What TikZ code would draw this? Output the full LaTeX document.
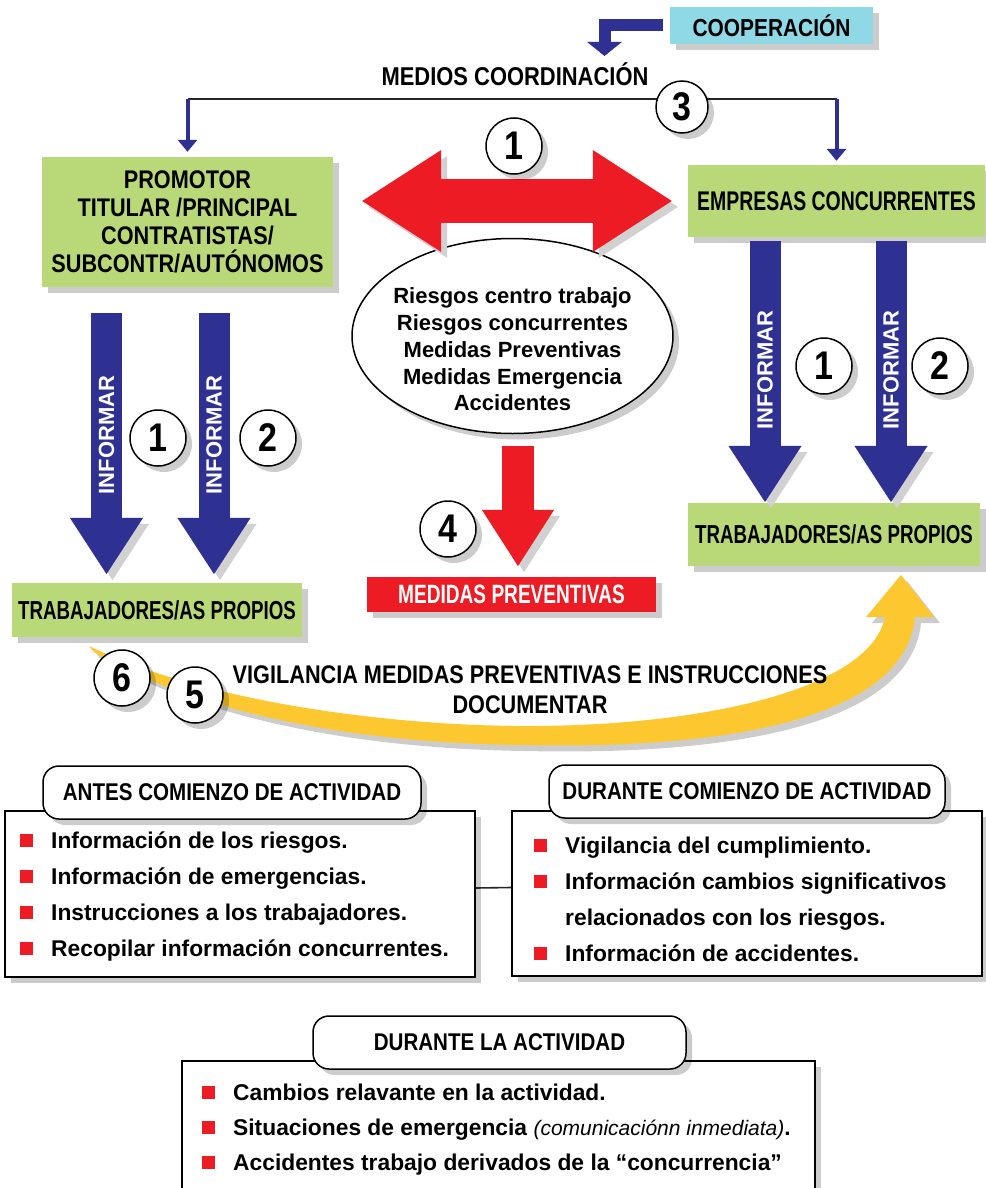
\documentclass[tikz,border=0pt]{standalone}
\usepackage{fontspec}
\setmainfont{Liberation Sans}
\newfontfamily\cndfont[FakeStretch=0.85]{Liberation Sans}
\newfontfamily\tightfont[FakeStretch=0.72]{Liberation Sans}
\usetikzlibrary{shapes.geometric,arrows.meta,shadows}

\definecolor{boxgreen}{RGB}{185,217,120}
\definecolor{coopcyan}{RGB}{143,216,229}
\definecolor{alertred}{RGB}{237,28,36}
\definecolor{infoblue}{RGB}{46,49,146}
\definecolor{arcgold}{RGB}{253,200,47}

\newcommand{\bul}{\textcolor{alertred}{\rule[1.5pt]{13pt}{13pt}}}

\tikzset{
  softshadow/.style={drop shadow={shadow xshift=6pt, shadow yshift=-6pt, fill=black, opacity=.2}},
  lineshadow/.style={preaction={draw=black!18, transform canvas={shift={(6pt,-6pt)}}}},
  greenbox/.style={fill=boxgreen, softshadow, inner sep=0pt, align=center},
  capsfont/.style={font=\cndfont\bfseries\fontsize{#1}{28}\selectfont},
  tightcaps/.style={font=\tightfont\bfseries\fontsize{#1}{28}\selectfont},
  numdisc/.style={circle, draw, line width=1.5pt, fill=white, softshadow, minimum size=56pt,
    inner sep=0pt, font=\cndfont\bfseries\fontsize{40}{40}\selectfont},
  fatblue/.style={draw=infoblue, line width=31pt, -{Triangle[width=69pt,length=57pt]}, lineshadow},
  fatred/.style={draw=alertred, lineshadow},
  infotext/.style={rotate=90, text=white, font=\bfseries\fontsize{22}{22}\selectfont},
  medline/.style={draw=black!85, line width=1.6pt},
  medarrow/.style={draw=infoblue, line width=4pt, -{Triangle[width=19pt,length=12pt]}},
  titlebox/.style={draw, line width=1.5pt, rounded corners=16pt, fill=white, softshadow, inner sep=0pt,
    capsfont=24.2},
  listbox/.style={draw, line width=1.5pt, fill=white, softshadow, inner sep=0pt},
  listtext/.style={inner sep=0pt, anchor=north west, font=\bfseries\fontsize{22.8}{#1}\selectfont},
}

\begin{document}
\begin{tikzpicture}[x=1pt, y=-1pt]
\useasboundingbox (0,0) rectangle (985,1188);

\node[fill=coopcyan, softshadow, minimum width=203pt, minimum height=37pt, inner sep=0pt, capsfont=24.6]
  (coop) at (771.5,25.5) {COOPERACIÓN};
\node[capsfont=25.8] (medios) at (515,74) {MEDIOS COORDINACIÓN};
\coordinate (coopend) at (604.5,56);
\draw[draw=infoblue, line width=12pt, shorten <=7pt, -{Triangle[width=34pt,length=14pt]}] (coop.west) -| (coopend);

\node[greenbox, minimum width=291pt, minimum height=130pt, capsfont=25.5] (promo) at (187.5,222)
  {PROMOTOR\\TITULAR /PRINCIPAL\\CONTRATISTAS/\\SUBCONTR/AUTÓNOMOS};
\node[greenbox, minimum width=297pt, minimum height=72pt, tightcaps=27] (empresas) at (836.5,201)
  {EMPRESAS CONCURRENTES};
\node[greenbox, minimum width=290pt, minimum height=54pt, tightcaps=26] (trabL) at (157,610)
  {TRABAJADORES/AS PROPIOS};
\node[greenbox, minimum width=292pt, minimum height=63pt, tightcaps=26] (trabR) at (834,534.5)
  {TRABAJADORES/AS PROPIOS};

\coordinate (mL) at (187.5,99);
\coordinate (mR) at (836.5,99);
\draw[medline] (mL) -- (mR);
\draw[medarrow, shorten >=5pt] (mL) -- (promo.north);
\draw[medarrow, shorten >=4pt] (mR) -- (empresas.north);
\node[numdisc, minimum size=52pt] (c3) at (682,107) {3};

\node[ellipse, draw, line width=1.5pt, fill=white, softshadow, minimum width=321pt, minimum height=195pt,
  inner sep=0pt] (riesgos) at (512.5,336) {};
\node[align=center, font=\bfseries\fontsize{22}{26.75}\selectfont] (riesgostxt) at (512.5,349.5)
  {Riesgos centro trabajo\\Riesgos concurrentes\\Medidas Preventivas\\Medidas Emergencia\\Accidentes};

\draw[fatred, line width=44pt, shorten <=28pt, shorten >=15pt,
  {Triangle[width=96pt,length=80pt]}-{Triangle[width=96pt,length=80pt]}]
  (promo.east |- empresas.west) -- (empresas.west);
\node[numdisc] (c1top) at (514,146) {1};

\node[fill=alertred, softshadow, text=white, minimum width=289pt, minimum height=35pt, inner sep=0pt,
  tightcaps=26.5] (medprev) at (511.5,594.5) {MEDIDAS PREVENTIVAS};
\coordinate (colred) at (518,0);
\draw[fatred, line width=32pt, shorten <=11.5pt, shorten >=10pt, -{Triangle[width=68pt,length=57pt]}]
  (riesgos.south -| colred) -- (medprev.north -| colred);
\node[numdisc] (c4) at (448,529) {4};

\coordinate (colL1) at (106.5,0);
\coordinate (colL2) at (214,0);
\coordinate (colR1) at (765,0);
\coordinate (colR2) at (891,0);
\draw[fatblue, shorten <=26pt, shorten >=8pt] (promo.south -| colL1) -- node[infotext] (infL1) {INFORMAR} (trabL.north -| colL1);
\draw[fatblue, shorten <=26pt, shorten >=8pt] (promo.south -| colL2) -- node[infotext] (infL2) {INFORMAR} (trabL.north -| colL2);
\draw[fatblue, shorten <=4pt] (empresas.south -| colR1) -- node[infotext] (infR1) {INFORMAR} (trabR.north -| colR1);
\draw[fatblue, shorten <=4pt] (empresas.south -| colR2) -- node[infotext] (infR2) {INFORMAR} (trabR.north -| colR2);
\node[numdisc] (c1L) at (158,438) {1};
\node[numdisc] (c2L) at (268,438) {2};
\node[numdisc] (c1R) at (824,366) {1};
\node[numdisc] (c2R) at (940,366) {2};

\fill[arcgold, softshadow] (89,646) .. controls (200,700) and (380,725) .. (520,726)
  .. controls (700,727) and (870,690) .. (885,617) -- (866,617) -- (901,575) -- (934,617) -- (915,617)
  .. controls (905,715) and (740,750) .. (520,745) .. controls (360,743) and (200,715) .. (94,652) -- cycle;
\node[numdisc] (c6) at (122,678) {6};
\node[numdisc] (c5) at (195,695) {5};
\node[align=center, font=\cndfont\bfseries\fontsize{25.5}{30}\selectfont] (vigil) at (530,690)
  {VIGILANCIA MEDIDAS PREVENTIVAS E INSTRUCCIONES\\DOCUMENTAR};

\node[listbox, minimum width=470pt, minimum height=166pt] (antesbox) at (240,894) {};
\node[listbox, minimum width=470pt, minimum height=165pt] (durbox) at (747,893.5) {};
\draw[medline] ([yshift=6pt]antesbox.east) -- ([yshift=6pt]durbox.west);
\node[titlebox, minimum width=378pt, minimum height=53pt] (antestitle) at (232,792.5) {ANTES COMIENZO DE ACTIVIDAD};
\node[titlebox, minimum width=396pt, minimum height=53pt] (durtitle) at (747,791.5) {DURANTE COMIENZO DE ACTIVIDAD};
\node[listtext=36] (antesitems) at (20,823) {%
  \begin{tabular}{@{}l@{\hspace{18pt}}l@{}}
  \bul & Información de los riesgos.\\
  \bul & Información de emergencias.\\
  \bul & Instrucciones a los trabajadores.\\
  \bul & Recopilar información concurrentes.
  \end{tabular}};
\node[listtext=36] (duritems) at (534,828) {%
  \begin{tabular}{@{}l@{\hspace{18pt}}l@{}}
  \bul & Vigilancia del cumplimiento.\\
  \bul & Información cambios significativos\\
       & relacionados con los riesgos.\\
  \bul & Información de accidentes.
  \end{tabular}};

\node[listbox, minimum width=633pt, minimum height=139pt] (lasbox) at (498.5,1130.5) {};
\node[titlebox, minimum width=373pt, minimum height=53pt] (lastitle) at (499.5,1042.5) {DURANTE LA ACTIVIDAD};
\node[listtext=35] (lasitems) at (202,1076) {%
  \begin{tabular}{@{}l@{\hspace{18pt}}l@{}}
  \bul & Cambios relavante en la actividad.\\
  \bul & Situaciones de emergencia {\mdseries\itshape\fontsize{21}{35}\selectfont (comunicaciónn inmediata)}.\\
  \bul & Accidentes trabajo derivados de la “concurrencia”
  \end{tabular}};
\end{tikzpicture}
\end{document}
